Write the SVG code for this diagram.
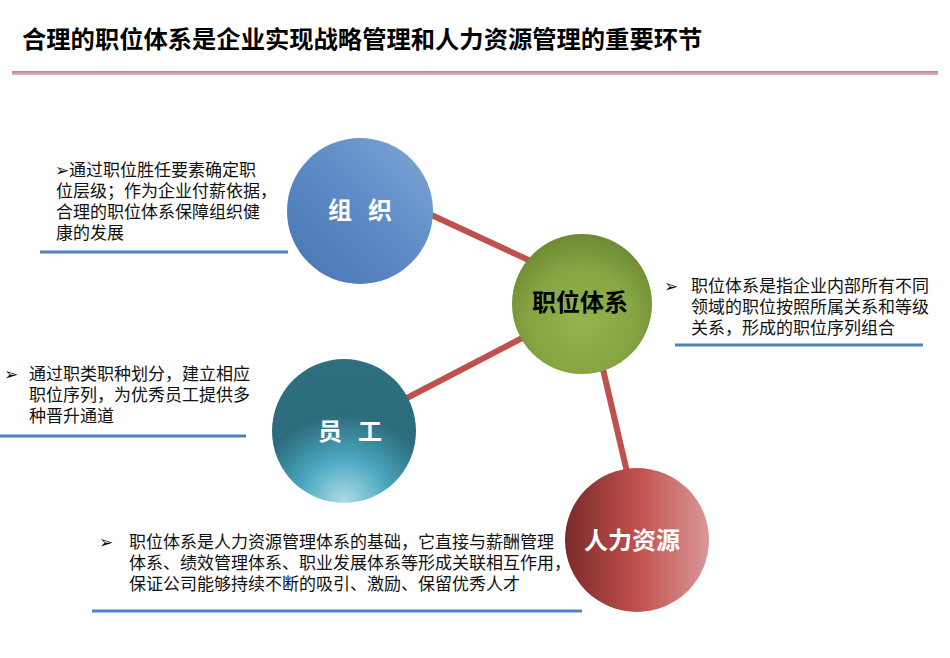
<svg xmlns="http://www.w3.org/2000/svg" width="950" height="658" viewBox="0 0 950 658">
<defs>
<linearGradient id="gBlue" x1="1" y1="0" x2="0" y2="1">
<stop offset="0" stop-color="#80A7D3"/>
<stop offset="0.5" stop-color="#5B8AC6"/>
<stop offset="1" stop-color="#4874B2"/>
</linearGradient>
<radialGradient id="gGreen" cx="0.5" cy="0.62" r="0.62">
<stop offset="0" stop-color="#94B44C"/>
<stop offset="0.6" stop-color="#86A543"/>
<stop offset="1" stop-color="#6C8A32"/>
</radialGradient>
<radialGradient id="gTeal" cx="0.5" cy="1" r="1">
<stop offset="0" stop-color="#B5DDE6"/>
<stop offset="0.3" stop-color="#4CAAC2"/>
<stop offset="0.62" stop-color="#2C6B7B"/>
<stop offset="1" stop-color="#2E7080"/>
</radialGradient>
<linearGradient id="gRed" x1="0" y1="0" x2="1" y2="0">
<stop offset="0" stop-color="#7A2A2B"/>
<stop offset="0.5" stop-color="#C0504D"/>
<stop offset="1" stop-color="#DA9798"/>
</linearGradient>
<linearGradient id="gRule" x1="0" y1="0" x2="0" y2="1">
<stop offset="0" stop-color="#C27E93"/>
<stop offset="1" stop-color="#E2B8C4"/>
</linearGradient>
</defs>
<style>
.title{font-family:"Noto Sans CJK SC","Liberation Sans",sans-serif;font-size:24.3px;font-weight:bold;fill:#000}
.body{font-family:"Liberation Sans","Noto Sans CJK SC",sans-serif;font-size:17px;fill:#111}
.bullet{font-family:"DejaVu Sans",sans-serif;font-size:17px;fill:#111}
.lbl{font-family:"Noto Sans CJK SC","Liberation Sans",sans-serif;font-size:24px;font-weight:bold;text-anchor:middle}
.ul{stroke:#4F81BD;stroke-width:3;fill:none}
.conn{stroke:#C0504D;stroke-width:6;stroke-linecap:butt;fill:none}
</style>
<rect width="950" height="658" fill="#FFFFFF"/>
<text class="title" x="22" y="48">合理的职位体系是企业实现战略管理和人力资源管理的重要环节</text>
<rect x="12" y="71" width="926" height="4" fill="url(#gRule)"/>
<g id="connectors">
<line class="conn" x1="425" y1="212" x2="535" y2="263"/>
<line class="conn" x1="528" y1="335" x2="405" y2="399"/>
<line class="conn" x1="602" y1="365" x2="627" y2="472"/>
</g>
<g id="node-zuzhi">
<circle cx="360" cy="211" r="73" fill="url(#gBlue)"/>
<text class="lbl" y="219" fill="#FFFFFF"><tspan x="340">组</tspan><tspan x="380">织</tspan></text>
</g>
<g id="node-zhiwei">
<circle cx="582" cy="304" r="70" fill="url(#gGreen)"/>
<text class="lbl" x="580" y="311" fill="#000000">职位体系</text>
</g>
<g id="node-yuangong">
<circle cx="344" cy="431" r="72" fill="url(#gTeal)"/>
<text class="lbl" y="440" fill="#FFFFFF"><tspan x="330">员</tspan><tspan x="370">工</tspan></text>
</g>
<g id="node-renli">
<circle cx="637" cy="540" r="72" fill="url(#gRed)"/>
<text class="lbl" x="632" y="549" fill="#FFFFFF">人力资源</text>
</g>
<g id="note-zuzhi">
<text class="body"><tspan class="bullet" x="55" y="176">➢</tspan><tspan x="69" y="176">通过职位胜任要素确定职</tspan><tspan x="56" y="197">位层级；作为企业付薪依据，</tspan><tspan x="56" y="218">合理的职位体系保障组织健</tspan><tspan x="56" y="239">康的发展</tspan></text>
<line class="ul" x1="40" y1="252" x2="288" y2="252"/>
</g>
<g id="note-yuangong">
<text class="body"><tspan class="bullet" x="4" y="380">➢</tspan><tspan x="29" y="380">通过职类职种划分，建立相应</tspan><tspan x="29" y="401">职位序列，为优秀员工提供多</tspan><tspan x="29" y="422">种晋升通道</tspan></text>
<line class="ul" x1="0" y1="436" x2="246" y2="436"/>
</g>
<g id="note-zhiwei">
<text class="body"><tspan class="bullet" x="664" y="292">➢</tspan><tspan x="691" y="292">职位体系是指企业内部所有不同</tspan><tspan x="691" y="313">领域的职位按照所属关系和等级</tspan><tspan x="691" y="334">关系，形成的职位序列组合</tspan></text>
<line class="ul" x1="675" y1="345" x2="923" y2="345"/>
</g>
<g id="note-renli">
<text class="body"><tspan class="bullet" x="99" y="548">➢</tspan><tspan x="129" y="548">职位体系是人力资源管理体系的基础，它直接与薪酬管理</tspan><tspan x="129" y="569">体系、绩效管理体系、职业发展体系等形成关联相互作用，</tspan><tspan x="129" y="590">保证公司能够持续不断的吸引、激励、保留优秀人才</tspan></text>
<line class="ul" x1="92" y1="611" x2="582" y2="611"/>
</g>
</svg>
